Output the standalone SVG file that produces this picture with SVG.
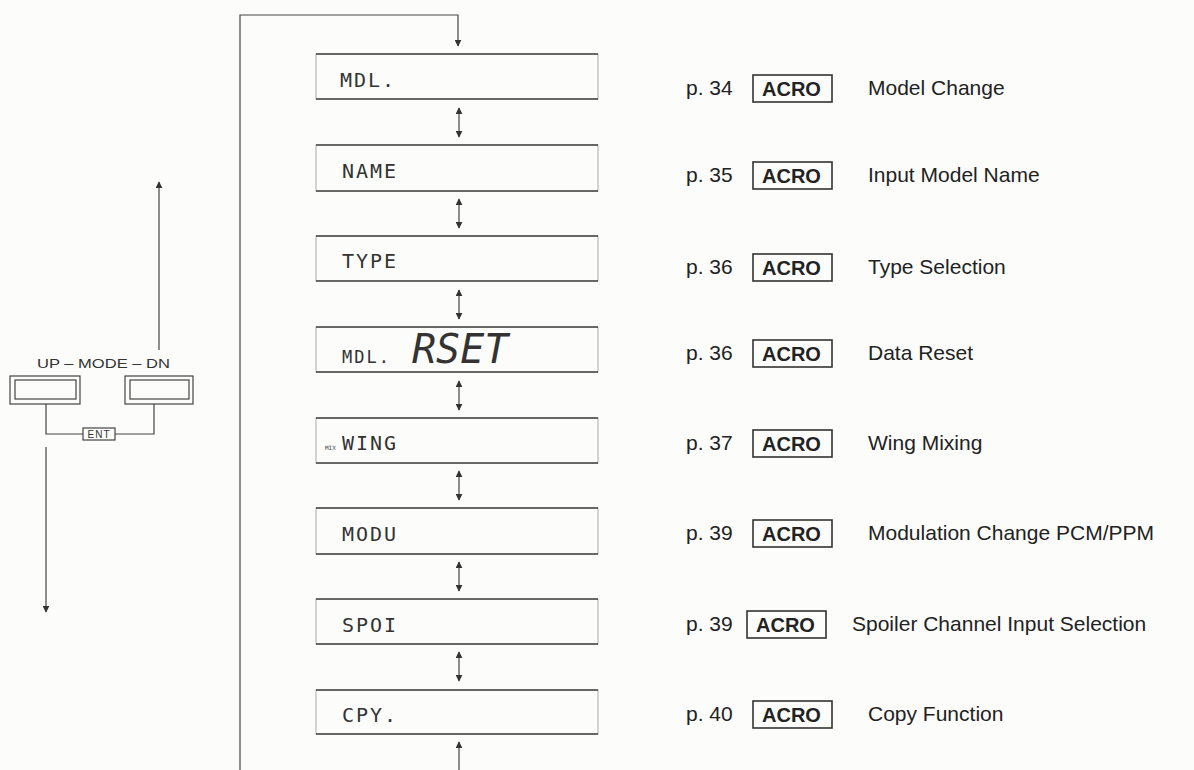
<svg xmlns="http://www.w3.org/2000/svg" width="1194" height="770" viewBox="0 0 1194 770">
<defs>
<marker id="ah" viewBox="0 0 10 10" refX="9" refY="5" markerWidth="7" markerHeight="7" markerUnits="userSpaceOnUse" orient="auto-start-reverse">
<path d="M0,0 L10,5 L0,10 z" fill="#333"/>
</marker>
</defs>
<style>
.bg{fill:#fcfcfb}
.ln{stroke:#444;stroke-width:1.2;fill:none}
.box{fill:none;stroke:#aaa;stroke-width:1}
.edge{stroke:#444;stroke-width:1.5}
.lcd{font-family:"DejaVu Sans Mono",monospace;font-size:20px;fill:#333;letter-spacing:2px}
.lbl{font-family:"Liberation Sans",Arial,sans-serif;font-size:21px;fill:#222}
.acro{font-family:"Liberation Sans",Arial,sans-serif;font-size:20px;font-weight:bold;fill:#222}
.abox{fill:none;stroke:#333;stroke-width:1.6}
.btn{fill:none;stroke:#444;stroke-width:1.2}
.small{font-family:"Liberation Sans",Arial,sans-serif;font-size:13px;fill:#333}
</style>
<rect class="bg" x="0" y="0" width="1194" height="770"/>

<g id="connectors">
<path class="ln" d="M240,770 L240,15 L458,15 L458,46" marker-end="url(#ah)"/>
<line class="ln" x1="459" y1="108" x2="459" y2="137" marker-start="url(#ah)" marker-end="url(#ah)"/>
<line class="ln" x1="459" y1="199" x2="459" y2="228" marker-start="url(#ah)" marker-end="url(#ah)"/>
<line class="ln" x1="459" y1="290" x2="459" y2="319" marker-start="url(#ah)" marker-end="url(#ah)"/>
<line class="ln" x1="459" y1="381" x2="459" y2="410" marker-start="url(#ah)" marker-end="url(#ah)"/>
<line class="ln" x1="459" y1="471" x2="459" y2="500" marker-start="url(#ah)" marker-end="url(#ah)"/>
<line class="ln" x1="459" y1="562" x2="459" y2="591" marker-start="url(#ah)" marker-end="url(#ah)"/>
<line class="ln" x1="459" y1="652" x2="459" y2="681" marker-start="url(#ah)" marker-end="url(#ah)"/>
<line class="ln" x1="459" y1="770" x2="459" y2="742" marker-end="url(#ah)"/>
<line class="ln" x1="159" y1="350" x2="159" y2="182" marker-end="url(#ah)"/>
<path class="ln" d="M46,404 L46,434 L83,434 M115,434 L154,434 L154,404"/>
<line class="ln" x1="46" y1="447" x2="46" y2="612" marker-end="url(#ah)"/>
</g>

<g id="mode-keys">
<text class="small" x="37" y="368" textLength="133" lengthAdjust="spacingAndGlyphs">UP – MODE – DN</text>
<rect class="btn" x="10" y="376" width="70" height="28"/>
<rect class="btn" x="15" y="380" width="61" height="19"/>
<rect class="btn" x="125" y="376" width="68" height="28"/>
<rect class="btn" x="130" y="380" width="59" height="19"/>
<rect class="btn" x="83" y="428" width="32" height="12"/>
<text x="99" y="438" text-anchor="middle" style="font-family:'Liberation Sans',Arial,sans-serif;font-size:10px;fill:#333;letter-spacing:1px">ENT</text>
</g>

<g id="n-mdl">
<rect class="box" x="316" y="54" width="282" height="45"/>
<path class="edge" d="M316,54 H598 M316,99 H598"/>
<text class="lcd" x="340" y="87">MDL.</text>
</g>
<g id="n-name">
<rect class="box" x="316" y="145" width="282" height="46"/>
<path class="edge" d="M316,145 H598 M316,191 H598"/>
<text class="lcd" x="342" y="178">NAME</text>
</g>
<g id="n-type">
<rect class="box" x="316" y="236" width="282" height="45"/>
<path class="edge" d="M316,236 H598 M316,281 H598"/>
<text class="lcd" x="342" y="268">TYPE</text>
</g>
<g id="n-rset">
<rect class="box" x="316" y="327" width="282" height="45"/>
<path class="edge" d="M316,327 H598 M316,372 H598"/>
<text class="lcd" x="342" y="363" style="font-size:17px">MDL.</text>
<text class="lcd" x="412" y="363" style="font-size:40px;letter-spacing:0px;font-style:italic">RSET</text>
</g>
<g id="n-wing">
<rect class="box" x="316" y="418" width="282" height="45"/>
<path class="edge" d="M316,418 H598 M316,463 H598"/>
<text x="325" y="450" style="font-family:'DejaVu Sans Mono',monospace;font-size:6px;fill:#444">MIX</text>
<text class="lcd" x="342" y="450">WING</text>
</g>
<g id="n-modu">
<rect class="box" x="316" y="508" width="282" height="46"/>
<path class="edge" d="M316,508 H598 M316,554 H598"/>
<text class="lcd" x="342" y="541">MODU</text>
</g>
<g id="n-spoi">
<rect class="box" x="316" y="599" width="282" height="45"/>
<path class="edge" d="M316,599 H598 M316,644 H598"/>
<text class="lcd" x="342" y="632">SPOI</text>
</g>
<g id="n-cpy">
<rect class="box" x="316" y="690" width="282" height="44"/>
<path class="edge" d="M316,690 H598 M316,734 H598"/>
<text class="lcd" x="342" y="722">CPY.</text>
</g>

<g id="l1">
<text class="lbl" x="686" y="95">p. 34</text>
<rect class="abox" x="753" y="75" width="79" height="27"/>
<text class="acro" x="762" y="96">ACRO</text>
<text class="lbl" x="868" y="95">Model Change</text>
</g>
<g id="l2">
<text class="lbl" x="686" y="182">p. 35</text>
<rect class="abox" x="753" y="162" width="79" height="27"/>
<text class="acro" x="762" y="183">ACRO</text>
<text class="lbl" x="868" y="182">Input Model Name</text>
</g>
<g id="l3">
<text class="lbl" x="686" y="274">p. 36</text>
<rect class="abox" x="753" y="254" width="79" height="27"/>
<text class="acro" x="762" y="275">ACRO</text>
<text class="lbl" x="868" y="274">Type Selection</text>
</g>
<g id="l4">
<text class="lbl" x="686" y="360">p. 36</text>
<rect class="abox" x="753" y="340" width="79" height="27"/>
<text class="acro" x="762" y="361">ACRO</text>
<text class="lbl" x="868" y="360">Data Reset</text>
</g>
<g id="l5">
<text class="lbl" x="686" y="450">p. 37</text>
<rect class="abox" x="753" y="430" width="79" height="27"/>
<text class="acro" x="762" y="451">ACRO</text>
<text class="lbl" x="868" y="450">Wing Mixing</text>
</g>
<g id="l6">
<text class="lbl" x="686" y="540">p. 39</text>
<rect class="abox" x="753" y="520" width="79" height="27"/>
<text class="acro" x="762" y="541">ACRO</text>
<text class="lbl" x="868" y="540">Modulation Change PCM/PPM</text>
</g>
<g id="l7">
<text class="lbl" x="686" y="631">p. 39</text>
<rect class="abox" x="747" y="611" width="79" height="27"/>
<text class="acro" x="756" y="632">ACRO</text>
<text class="lbl" x="852" y="631">Spoiler Channel Input Selection</text>
</g>
<g id="l8">
<text class="lbl" x="686" y="721">p. 40</text>
<rect class="abox" x="753" y="701" width="79" height="27"/>
<text class="acro" x="762" y="722">ACRO</text>
<text class="lbl" x="868" y="721">Copy Function</text>
</g>
</svg>
